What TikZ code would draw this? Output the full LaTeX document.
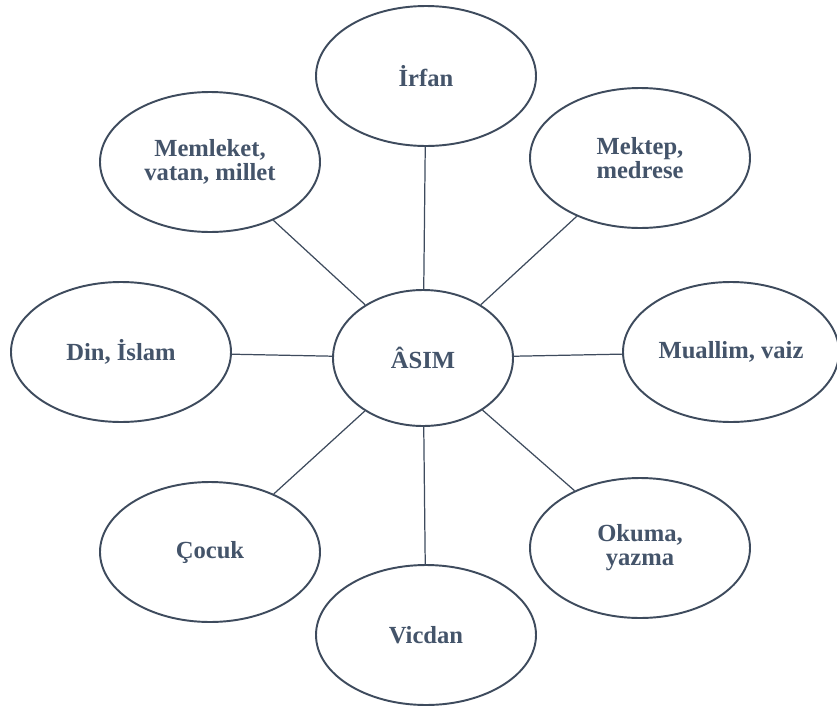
\documentclass[tikz,border=0pt]{standalone}
\usepackage{fontspec}
\setmainfont{Liberation Serif}
\usepackage{xcolor}
\usetikzlibrary{shapes.geometric, positioning}

\definecolor{inkblue}{HTML}{44546A}
\definecolor{rimblue}{HTML}{3E4B5D}

\tikzset{
    topic/.style={ellipse, draw=rimblue, line width=1.1pt, fill=white,
        minimum width=4.4cm, minimum height=2.8cm, inner sep=0pt,
        align=center, text=inkblue,
        font=\bfseries\fontsize{14}{13.6}\selectfont},
    link/.style={draw=rimblue, line width=0.7pt}
}

\begin{document}
\begin{tikzpicture}
    \useasboundingbox (0, 0) rectangle (16.74, -14.14);

    \node[topic, minimum width=3.6cm, minimum height=2.72cm] (asim) at (8.46, -7.16) {ÂSIM};
    \node[topic] (irfan) at (8.52, -1.52) {İrfan};
    \node[topic] (memleket) at (4.2, -3.24) {Memleket,\\vatan, millet};
    \node[topic] (mektep) at (12.8, -3.16) {Mektep,\\medrese};
    \node[topic] (din) at (2.42, -7.04) {Din, İslam};
    \node[topic, minimum width=4.32cm] (muallim) at (14.62, -7.04) {Muallim, vaiz};
    \node[topic] (cocuk) at (4.2, -11.04) {Çocuk};
    \node[topic] (okuma) at (12.8, -10.96) {Okuma,\\yazma};
    \node[topic] (vicdan) at (8.52, -12.7) {Vicdan};

    \foreach \n in {irfan, memleket, mektep, din, muallim, cocuk, okuma, vicdan} {
        \draw[link] (asim) -- (\n);
    }
\end{tikzpicture}
\end{document}
